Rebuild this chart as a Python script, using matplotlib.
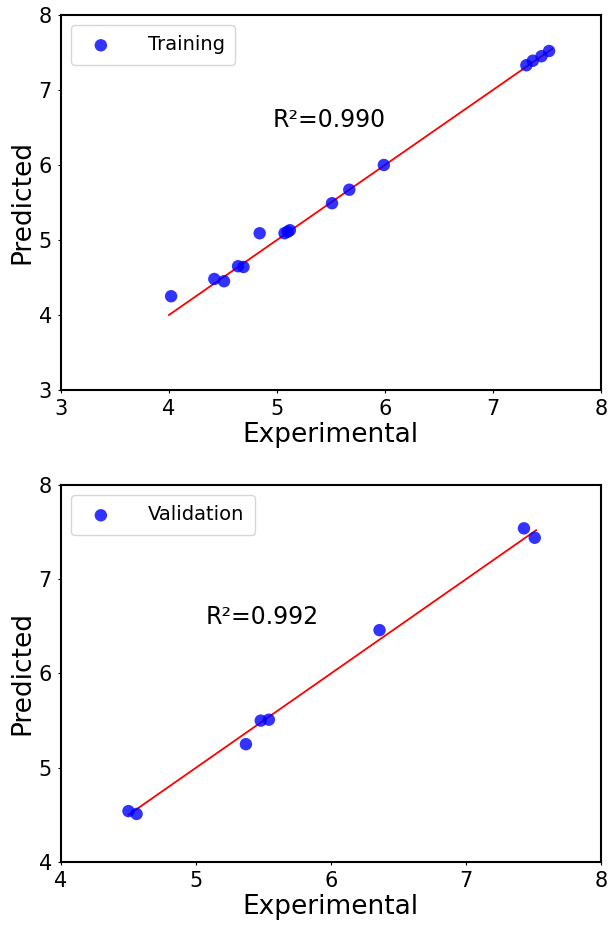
import matplotlib
matplotlib.use("Agg")
import matplotlib.pyplot as plt
import numpy as np

# Training data
train_exp = [4.02, 4.42, 4.51, 4.64, 4.69, 4.84, 5.07, 5.10, 5.12, 5.51, 5.67, 5.99, 7.31, 7.37, 7.45, 7.52]
train_pred = [4.25, 4.48, 4.45, 4.65, 4.64, 5.09, 5.09, 5.11, 5.13, 5.49, 5.67, 6.00, 7.33, 7.39, 7.45, 7.52]
train_line = [4.0, 7.55]
train_r2 = "R²=0.990"

# Validation data
val_exp = [4.50, 4.56, 5.48, 5.54, 5.37, 6.36, 7.43, 7.51]
val_pred = [4.54, 4.51, 5.50, 5.51, 5.25, 6.46, 7.54, 7.44]
val_line = [4.5, 7.52]
val_r2 = "R²=0.992"

fig = plt.figure(figsize=(6.08, 9.25), dpi=100)
ax1 = fig.add_axes([0.1003, 0.5784, 0.888, 0.4054])
ax2 = fig.add_axes([0.1003, 0.0681, 0.888, 0.4076])

def draw(ax, x, y, line, label, r2, r2pos, xlim, ylim):
    ax.scatter(x, y, s=80, color='blue', alpha=0.8, label=label, zorder=3, edgecolors='none')
    ax.plot(line, line, color='red', lw=1.3, zorder=2)
    ax.set_xlim(*xlim)
    ax.set_ylim(*ylim)
    ax.set_xticks(np.arange(xlim[0], xlim[1] + 1))
    ax.set_yticks(np.arange(ylim[0], ylim[1] + 1))
    ax.tick_params(labelsize=15, length=2.5, pad=4)
    ax.set_xlabel("Experimental", fontsize=19, labelpad=2)
    ax.set_ylabel("Predicted", fontsize=19, labelpad=2)
    ax.text(r2pos[0], r2pos[1], r2, fontsize=17, va='center', ha='left')
    for s in ax.spines.values():
        s.set_linewidth(1.5)
    ax.legend(loc='upper left', fontsize=14, handletextpad=1.4, borderpad=0.55)

draw(ax1, train_exp, train_pred, train_line, "Training", train_r2, (4.96, 6.6), (3, 8), (3, 8))
draw(ax2, val_exp, val_pred, val_line, "Validation", val_r2, (5.07, 6.6), (4, 8), (4, 8))

fig.savefig("out.png", dpi=100)
